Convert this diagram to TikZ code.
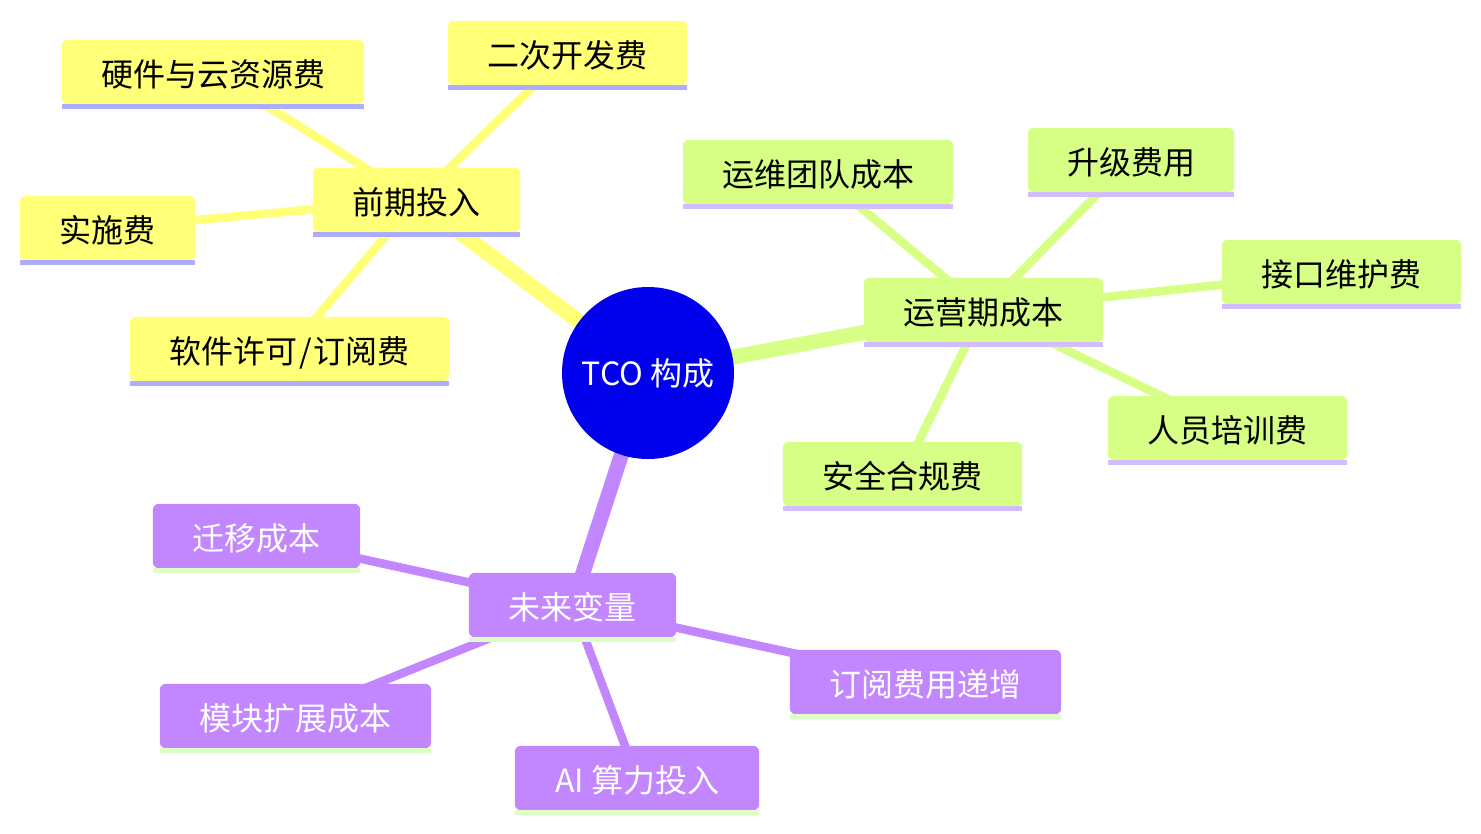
\documentclass[tikz,border=0pt]{standalone}
\usepackage{fontspec}
\setmainfont{Noto Sans CJK SC}
\definecolor{Yfill}{HTML}{FFFF78}
\definecolor{Yline}{HTML}{ADADFF}
\definecolor{Gfill}{HTML}{D7FF86}
\definecolor{Gline}{HTML}{D3BDFF}
\definecolor{Pfill}{HTML}{C286FF}
\definecolor{Pline}{HTML}{DDFFC6}
\definecolor{RootBlue}{HTML}{0000EC}
\pgfdeclarelayer{edges}
\pgfdeclarelayer{boxes}
\pgfsetlayers{edges,boxes,main}
\begin{document}
\begin{tikzpicture}[x=1pt,y=-1pt,
  lbl/.style={inner sep=0pt, minimum height=64pt, text height=30pt, text depth=2pt, font=\fontsize{32}{38}\selectfont},
  ytext/.style={lbl, text=black},
  gtext/.style={lbl, text=black},
  ptext/.style={lbl, text=white},
  rootnode/.style={circle, fill=RootBlue, minimum size=172pt, inner sep=0pt, text=white, font=\fontsize{32}{38}\selectfont},
  mainedge/.style={line width=15pt},
  subedge/.style={line width=8.5pt}]
\useasboundingbox (0,0) rectangle (1481,833);
% root
\node[rootnode] (root) at (648,373) {TCO 构成};
% yellow section
\node[ytext, minimum width=207pt] (q) at (416.5,200) {前期投入};
\node[ytext, minimum width=302pt] (h1) at (213,72) {硬件与云资源费};
\node[ytext, minimum width=239pt] (h2) at (567.5,53) {二次开发费};
\node[ytext, minimum width=175pt] (h3) at (107.5,228) {实施费};
\node[ytext, minimum width=319pt] (h4) at (289.5,349) {软件许可\kern2pt/\kern2pt订阅费};
% green section
\node[gtext, minimum width=239pt] (y) at (983.5,310) {运营期成本};
\node[gtext, minimum width=270pt] (g1) at (818,172) {运维团队成本};
\node[gtext, minimum width=206pt] (g2) at (1131,160) {升级费用};
\node[gtext, minimum width=239pt] (g3) at (1341.5,272) {接口维护费};
\node[gtext, minimum width=239pt] (g4) at (1227.5,428) {人员培训费};
\node[gtext, minimum width=239pt] (g5) at (902.5,474) {安全合规费};
% purple section
\node[ptext, minimum width=207pt] (w) at (572.5,605) {未来变量};
\node[ptext, minimum width=207pt] (p1) at (256.5,536) {迁移成本};
\node[ptext, minimum width=271pt] (p2) at (925.5,682) {订阅费用递增};
\node[ptext, minimum width=271pt] (p3) at (295.5,716) {模块扩展成本};
\node[ptext, minimum width=244pt] (p4) at (637,778) {AI 算力投入};
% edges
\begin{pgfonlayer}{edges}
\draw[mainedge, Yfill] (root.center) -- (q.center);
\draw[mainedge, Gfill] (root.center) -- (y.center);
\draw[mainedge, Pfill] (root.center) -- (w.center);
\foreach \a in {h1,h2,h3,h4} \draw[subedge, Yfill] (q.center) -- (\a.center);
\foreach \a in {g1,g2,g3,g4,g5} \draw[subedge, Gfill] (y.center) -- (\a.center);
\foreach \a in {p1,p2,p3,p4} \draw[subedge, Pfill] (w.center) -- (\a.center);
\end{pgfonlayer}
% boxes
\begin{pgfonlayer}{boxes}
\foreach \n/\f/\l in {q/Yfill/Yline,h1/Yfill/Yline,h2/Yfill/Yline,h3/Yfill/Yline,h4/Yfill/Yline,
  y/Gfill/Gline,g1/Gfill/Gline,g2/Gfill/Gline,g3/Gfill/Gline,g4/Gfill/Gline,g5/Gfill/Gline,
  w/Pfill/Pline,p1/Pfill/Pline,p2/Pfill/Pline,p3/Pfill/Pline,p4/Pfill/Pline}{
  \fill[\f, rounded corners=6pt] (\n.south west) rectangle (\n.north east);
  \fill[\l] (\n.south west) rectangle ([yshift=-5pt]\n.south east);
}
\end{pgfonlayer}
\end{tikzpicture}
\end{document}
